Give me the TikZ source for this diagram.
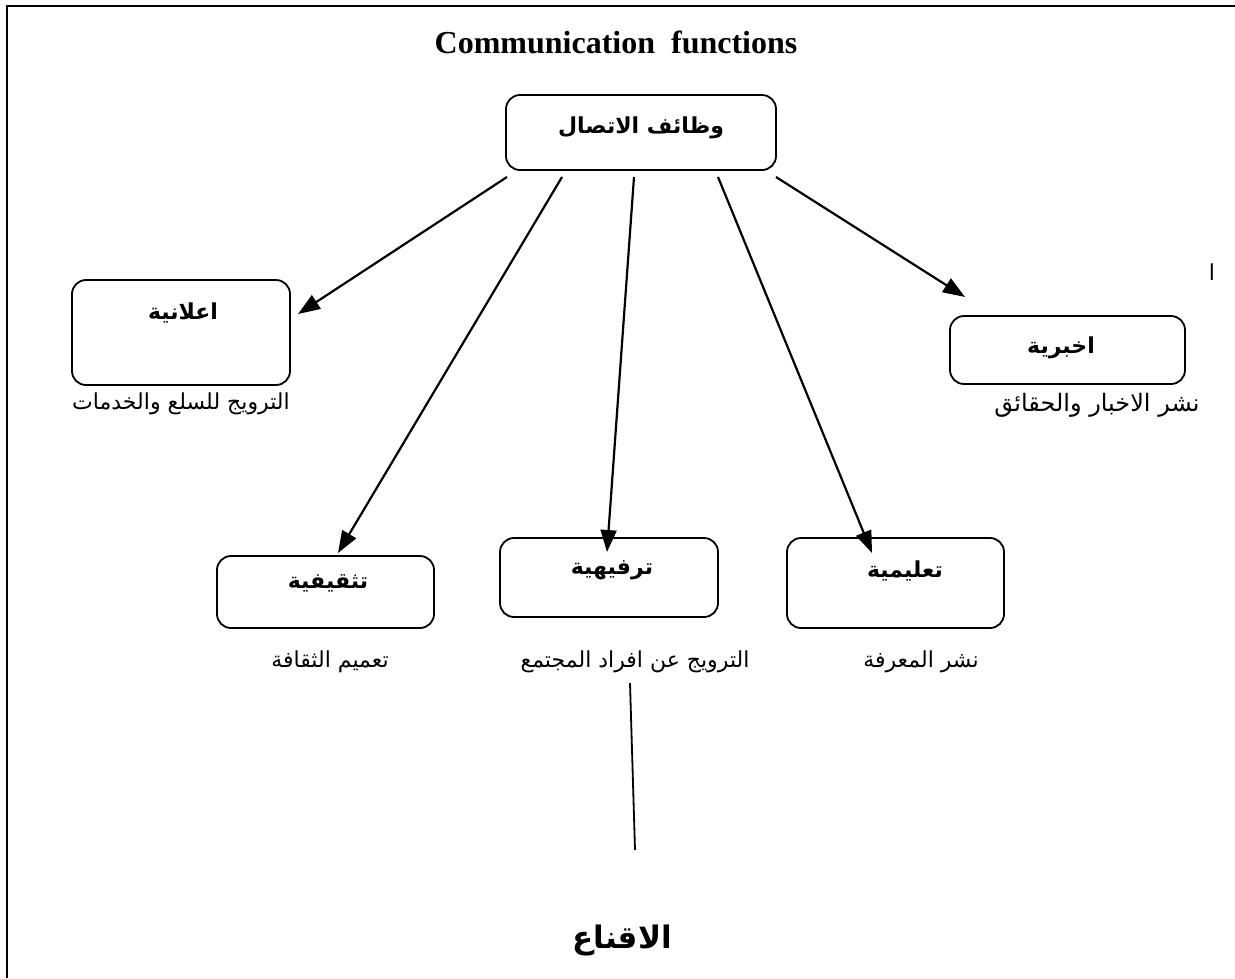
\documentclass[tikz,border=0pt]{standalone}
\usepackage{fontspec}
\setmainfont{Liberation Serif}
\newfontfamily\arabicfont[Script=Arabic]{DejaVu Sans}
\TeXXeTstate=1
\usetikzlibrary{arrows.meta}
\newcommand{\rtl}[1]{\beginR #1\endR}

\begin{document}
\begin{tikzpicture}[x=1pt,y=1pt,
  fbox/.style={draw, line width=1.8pt, rounded corners=14pt, inner sep=0pt},
  boxtext/.style={font=\arabicfont\bfseries\fontsize{22}{26}\selectfont, inner sep=0pt},
  note/.style={font=\arabicfont\fontsize{22}{26}\selectfont, inner sep=0pt},
  arr/.style={line width=2.2pt, -{Triangle[length=22pt,width=16pt]}}]
\useasboundingbox (0,0) rectangle (1235,-978);

% frame: top and left edges only
\coordinate (fl) at (7,-978);
\coordinate (fc) at (7,-6);
\coordinate (fr) at (1235,-6);
\draw[line width=2.4pt] (fl) -- (fc) -- (fr);

% title
\node[font=\bfseries\fontsize{32}{36}\selectfont, inner sep=0pt] (title) at (616,-42) {Communication\ \ functions};

% central box
\node[fbox, minimum width=270pt, minimum height=75pt] (top) at (641,-132.5) {};
\node[boxtext] (topt) at (641,-128) {\rtl{وظائف الاتصال}};

% second row
\node[fbox, minimum width=218pt, minimum height=105pt] (adv) at (181,-332.5) {};
\node[boxtext] (advt) at (183,-313) {\rtl{اعلانية}};
\node[note] (advn) at (181,-404) {\rtl{الترويج للسلع والخدمات}};

\node[fbox, minimum width=235pt, minimum height=68pt] (news) at (1067.5,-350) {};
\node[boxtext] (newst) at (1061,-348) {\rtl{اخبرية}};
\node[note, font=\arabicfont\fontsize{24}{28}\selectfont] (newsn) at (1097,-405) {\rtl{نشر الاخبار والحقائق}};

\node[note] (alif) at (1212,-272) {\rtl{ا}};

% third row
\node[fbox, minimum width=217pt, minimum height=72pt] (cult) at (325.5,-592) {};
\node[boxtext] (cultt) at (328,-583) {\rtl{تثقيفية}};
\node[note] (cultn) at (330,-662) {\rtl{تعميم الثقافة}};

\node[fbox, minimum width=218pt, minimum height=79pt] (ent) at (609,-577.5) {};
\node[boxtext] (entt) at (612,-570) {\rtl{ترفيهية}};
\node[note] (entn) at (635,-662) {\rtl{الترويج عن افراد المجتمع}};

\node[fbox, minimum width=217pt, minimum height=90pt] (edu) at (895.5,-583) {};
\node[boxtext] (edut) at (905,-571) {\rtl{تعليمية}};
\node[note] (edun) at (921,-662) {\rtl{نشر المعرفة}};

% arrows from the central box
\coordinate (s1) at (507,-177);
\coordinate (s2) at (562,-177);
\coordinate (s3) at (634,-177);
\coordinate (s4) at (718,-177);
\coordinate (s5) at (776,-177);
\coordinate (e1) at (298,-314);
\coordinate (e2) at (338,-553);
\coordinate (e3) at (607,-552);
\coordinate (e4) at (872,-553);
\coordinate (e5) at (965,-297);
\draw[arr] (s1) -- (e1);
\draw[arr] (s2) -- (e2);
\draw[arr] (s3) -- (e3);
\draw[arr] (s4) -- (e4);
\draw[arr] (s5) -- (e5);

% line down to the conclusion
\node[font=\arabicfont\bfseries\fontsize{31}{36}\selectfont, inner sep=0pt] (pers) at (622,-940) {\rtl{الاقناع}};
\coordinate (l1) at (630,-683);
\coordinate (l2) at (635,-850);
\draw[line width=1.8pt] (l1) -- (l2);
\end{tikzpicture}
\end{document}
